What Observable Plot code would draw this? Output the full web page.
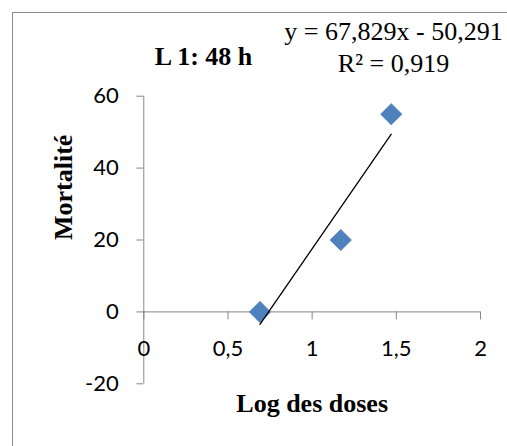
<!DOCTYPE html>
<html>
<head>
<meta charset="utf-8">
<script src="https://cdn.jsdelivr.net/npm/d3@7"></script>
<script src="https://cdn.jsdelivr.net/npm/@observablehq/plot@0.6"></script>
<style>
  html, body { margin: 0; padding: 0; background: #fff; }
  #chart { position: relative; width: 507px; height: 446px; }
  #border { position: absolute; left: 11.5px; top: 11.5px; width: 520px; height: 460px; border: 1.5px solid #8c8c8c; box-sizing: border-box; }
</style>
</head>
<body>
<div id="chart"><div id="border"></div></div>
<script>
// Data
const logDoses = [0.69, 1.17, 1.47];
const mortality = [0, 20, 55];
const xTicks = [0, 0.5, 1, 1.5, 2];
const xTickLabels = ["0", "0,5", "1", "1,5", "2"];
const yTicks = [-20, 0, 20, 40, 60];
const titleText = "L 1: 48 h";
const equationText = "y = 67,829x - 50,291";
const r2Text = "R² = 0,919";
const xLabel = "Log des doses";
const yLabel = "Mortalité";

const data = logDoses.map((x, i) => ({x, y: mortality[i]}));
const xTickData = xTicks.map((v, i) => ({v, label: xTickLabels[i]}));

const serif = "'Liberation Serif', 'Times New Roman', serif";
const sans = "Lato, 'Open Sans', sans-serif";
const axisColor = "#868686";

const plot = Plot.plot({
  width: 507,
  height: 446,
  marginLeft: 143.3,
  marginRight: 27,
  marginTop: 95.7,
  marginBottom: 62.7,
  style: {background: "transparent", overflow: "visible"},
  x: {domain: [0, 2], axis: null},
  y: {domain: [-20, 60], axis: null},
  marks: [
    // y axis
    Plot.ruleX([0], {y1: -20, y2: 60, stroke: axisColor, strokeWidth: 1}),
    Plot.axisY(yTicks, {
      anchor: "left", tickSize: 7, tickPadding: 18, stroke: axisColor,
      tickFormat: d => String(d), fontSize: 22, fontFamily: sans, fill: "#000", label: null
    }),
    // x axis at y = 0
    Plot.ruleY([0], {x1: 0, x2: 2, stroke: axisColor, strokeWidth: 1}),
    Plot.ruleX(xTicks, {x: d => d, y1: 0, y2: 0, insetBottom: -8, stroke: axisColor, strokeWidth: 1}),
    Plot.text(xTickData, {
      x: "v", y: 0, text: "label", dy: 43.7, lineAnchor: "bottom",
      fontSize: 22, fontFamily: sans, fill: "#000"
    }),
    // points
    Plot.dot(data, {x: "x", y: "y", symbol: "diamond2", r: 9.7, fill: "#4F81BD", stroke: "#4A7EBB", strokeWidth: 0.5}),
    // linear trend line
    Plot.linearRegressionY(data, {x: "x", y: "y", ci: 0, stroke: "#000", strokeWidth: 1.3}),
    // axis titles
    Plot.text([xLabel], {
      frameAnchor: "bottom", dy: 28.4, lineAnchor: "bottom",
      fontSize: 26, fontWeight: "bold", fontFamily: serif, fill: "#000"
    }),
    Plot.text([yLabel], {
      frameAnchor: "left", dx: -72.3, rotate: -90, lineAnchor: "bottom",
      fontSize: 26, fontWeight: "bold", fontFamily: serif, fill: "#000"
    }),
    // title
    Plot.text([titleText], {
      frameAnchor: "top-left", dx: 59.7, dy: -31.7, lineAnchor: "bottom", textAnchor: "middle",
      fontSize: 26, fontWeight: "bold", fontFamily: serif, fill: "#000"
    }),
    // trendline equation
    Plot.text([equationText], {
      frameAnchor: "top-left", dx: 249.7, dy: -55.7, lineAnchor: "bottom", textAnchor: "middle",
      fontSize: 26, fontFamily: serif, fill: "#000"
    }),
    Plot.text([r2Text], {
      frameAnchor: "top-left", dx: 249.7, dy: -24, lineAnchor: "bottom", textAnchor: "middle",
      fontSize: 26, fontFamily: serif, fill: "#000"
    })
  ]
});
plot.style.position = "absolute";
plot.style.left = "0px";
plot.style.top = "0px";
document.getElementById("chart").appendChild(plot);
</script>
</body>
</html>
